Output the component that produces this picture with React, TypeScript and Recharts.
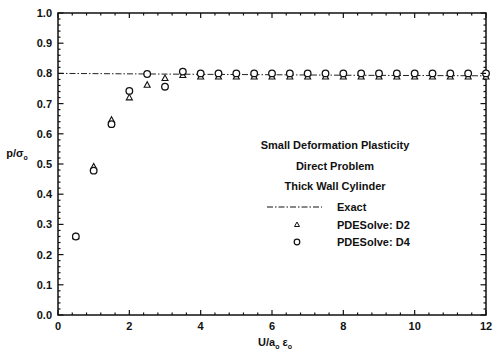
import { ScatterChart, Scatter, XAxis, YAxis, ReferenceArea, Legend } from 'recharts';

// --- data ---
const xValues = [0.5, 1, 1.5, 2, 2.5, 3, 3.5, 4, 4.5, 5, 5.5, 6, 6.5, 7, 7.5, 8, 8.5, 9, 9.5, 10, 10.5, 11, 11.5, 12];
const d2Values = [0.26, 0.491, 0.646, 0.72, 0.762, 0.784, 0.794, 0.789, 0.789, 0.789, 0.789, 0.789, 0.789, 0.789, 0.789, 0.789, 0.789, 0.789, 0.789, 0.789, 0.789, 0.789, 0.789, 0.789];
const d4Values = [0.26, 0.478, 0.632, 0.742, 0.798, 0.756, 0.806, 0.8, 0.8, 0.8, 0.8, 0.8, 0.8, 0.8, 0.8, 0.8, 0.8, 0.8, 0.8, 0.8, 0.8, 0.8, 0.8, 0.8];
const exactX = [0, 4, 8, 12];
const exactValues = [0.8, 0.797, 0.794, 0.792];

const seriesNames = ['Exact', 'PDESolve: D2', 'PDESolve: D4'];
const noteLines = ['Small Deformation Plasticity', 'Direct Problem', 'Thick Wall Cylinder'];

const xMajorTicks = [0, 2, 4, 6, 8, 10, 12];
const yMajorTicks = [0, 0.1, 0.2, 0.3, 0.4, 0.5, 0.6, 0.7, 0.8, 0.9, 1.0];
const X_MINOR_STEP = 0.4;
const Y_MINOR_STEP = 0.02;

const d2Data = xValues.map((x, i) => ({ x, y: d2Values[i] }));
const d4Data = xValues.map((x, i) => ({ x, y: d4Values[i] }));
const exactData = exactX.map((x, i) => ({ x, y: exactValues[i] }));

const xTicks = Array.from({ length: Math.round(12 / X_MINOR_STEP) + 1 }, (_, i) => Math.round(i * X_MINOR_STEP * 100) / 100);
const yTicks = Array.from({ length: Math.round(1 / Y_MINOR_STEP) + 1 }, (_, i) => Math.round(i * Y_MINOR_STEP * 100) / 100);

const W = 493;
const H = 356;
const MARGIN = { top: 13, right: 7, left: 0, bottom: 0 };
const Y_AXIS_W = 58;
const X_AXIS_H = 41;
const PLOT_LEFT = MARGIN.left + Y_AXIS_W;
const PLOT_RIGHT = W - MARGIN.right;
const PLOT_TOP = MARGIN.top;
const PLOT_BOTTOM = H - MARGIN.bottom - X_AXIS_H;

const INK = '#111';
const FONT = "'Liberation Sans', Arial, sans-serif";

const isMajor = (v: number, list: number[]) => list.some((m) => Math.abs(m - v) < 1e-6);

function XTick(props: any) {
  const { x, payload } = props;
  const major = isMajor(payload.value, xMajorTicks);
  const len = major ? 5 : 2.5;
  return (
    <g>
      <line x1={x} x2={x} y1={PLOT_BOTTOM} y2={PLOT_BOTTOM - len} stroke={INK} strokeWidth={1.2} />
      <line x1={x} x2={x} y1={PLOT_TOP} y2={PLOT_TOP + len} stroke={INK} strokeWidth={1.2} />
      {major && (
        <text x={x} y={PLOT_BOTTOM + 15} textAnchor="middle" fontSize={11} fontWeight="bold" fill={INK} fontFamily={FONT}>
          {payload.value}
        </text>
      )}
    </g>
  );
}

function YTick(props: any) {
  const { y, payload } = props;
  const major = isMajor(payload.value, yMajorTicks);
  const len = major ? 5.5 : 2.5;
  return (
    <g>
      <line x1={PLOT_LEFT} x2={PLOT_LEFT + len} y1={y} y2={y} stroke={INK} strokeWidth={1.2} />
      <line x1={PLOT_RIGHT} x2={PLOT_RIGHT - len} y1={y} y2={y} stroke={INK} strokeWidth={1.2} />
      {major && (
        <text x={PLOT_LEFT - 6} y={y + 4} textAnchor="end" fontSize={11} fontWeight="bold" fill={INK} fontFamily={FONT}>
          {payload.value.toFixed(1)}
        </text>
      )}
    </g>
  );
}

const TriangleDot = (p: any) => (
  <polygon
    points={`${p.cx},${p.cy - 3.2} ${p.cx - 3},${p.cy + 2.3} ${p.cx + 3},${p.cy + 2.3}`}
    fill="#fff" stroke={INK} strokeWidth={1.1}
  />
);
const CircleDot = (p: any) => <circle cx={p.cx} cy={p.cy} r={3.3} fill="#fff" stroke={INK} strokeWidth={1.3} />;

const EXACT_DASH = '6 2 1.5 2';

function Note({ payload }: any) {
  const rows = [...(payload ?? [])].sort(
    (a: any, b: any) => seriesNames.indexOf(a.value) - seriesNames.indexOf(b.value),
  );
  return (
    <svg width={230} height={125} style={{ display: 'block', overflow: 'visible' }}>
      {noteLines.map((t, i) => (
        <text key={t} x={105} y={19 + i * 20.5} textAnchor="middle" fontSize={11} fontWeight="bold" fill={INK} fontFamily={FONT}>
          {t}
        </text>
      ))}
      {rows.map((r: any, i: number) => {
        const cy = 77 + i * 17.5;
        let sym;
        if (r.value === 'Exact') sym = <line x1={37} x2={92} y1={cy} y2={cy} stroke={INK} strokeWidth={1} strokeDasharray={EXACT_DASH} />;
        else if (r.value === 'PDESolve: D2') sym = <polygon points={`67,${cy - 2.5} 64.5,${cy + 2} 69.5,${cy + 2}`} fill="#fff" stroke={INK} strokeWidth={1} />;
        else sym = <circle cx={67} cy={cy} r={2.8} fill="#fff" stroke={INK} strokeWidth={1.2} />;
        return (
          <g key={r.value}>
            {sym}
            <text x={107} y={cy + 4} fontSize={11} fontWeight="bold" fill={INK} fontFamily={FONT}>{r.value}</text>
          </g>
        );
      })}
    </svg>
  );
}

export default function App() {
  return (
    <div style={{ position: 'absolute', left: 0, top: 0, width: W, height: H, background: '#fff' }}>
      <ScatterChart width={W} height={H} margin={MARGIN}>
        <XAxis
          type="number" dataKey="x" domain={[0, 12]} ticks={xTicks} interval={0}
          height={X_AXIS_H} tickLine={false} axisLine={false} tick={(p: any) => <XTick {...p} />}
        />
        <YAxis
          type="number" dataKey="y" domain={[0, 1]} ticks={yTicks} interval={0}
          width={Y_AXIS_W} tickLine={false} axisLine={false} tick={(p: any) => <YTick {...p} />}
        />
        <ReferenceArea x1={0} x2={12} y1={0} y2={1} fill="none" stroke={INK} strokeWidth={1.5} ifOverflow="visible" />
        <Scatter
          name={seriesNames[0]} data={exactData} isAnimationActive={false}
          line={{ stroke: '#222', strokeWidth: 1, strokeDasharray: EXACT_DASH }}
          shape={() => <g />}
        />
        <Scatter name={seriesNames[1]} data={d2Data} isAnimationActive={false} shape={TriangleDot} />
        <Scatter name={seriesNames[2]} data={d4Data} isAnimationActive={false} shape={CircleDot} />
        <Legend
          layout="horizontal" verticalAlign="middle" align="center"
          content={<Note />}
          wrapperStyle={{ position: 'absolute', left: 230, top: 130, width: 230, height: 125 }}
        />
        <text x={17} y={157} textAnchor="middle" fontSize={11} fontWeight="bold" fill={INK} fontFamily={FONT}>
          p/σ<tspan fontSize={7} dy={3}>o</tspan>
        </text>
        <text x={275} y={346} textAnchor="middle" fontSize={11} fontWeight="bold" fill={INK} fontFamily={FONT}>
          U/a<tspan fontSize={7} dy={3}>o</tspan><tspan dy={-3}> ε</tspan><tspan fontSize={7} dy={3}>o</tspan>
        </text>
      </ScatterChart>
    </div>
  );
}
